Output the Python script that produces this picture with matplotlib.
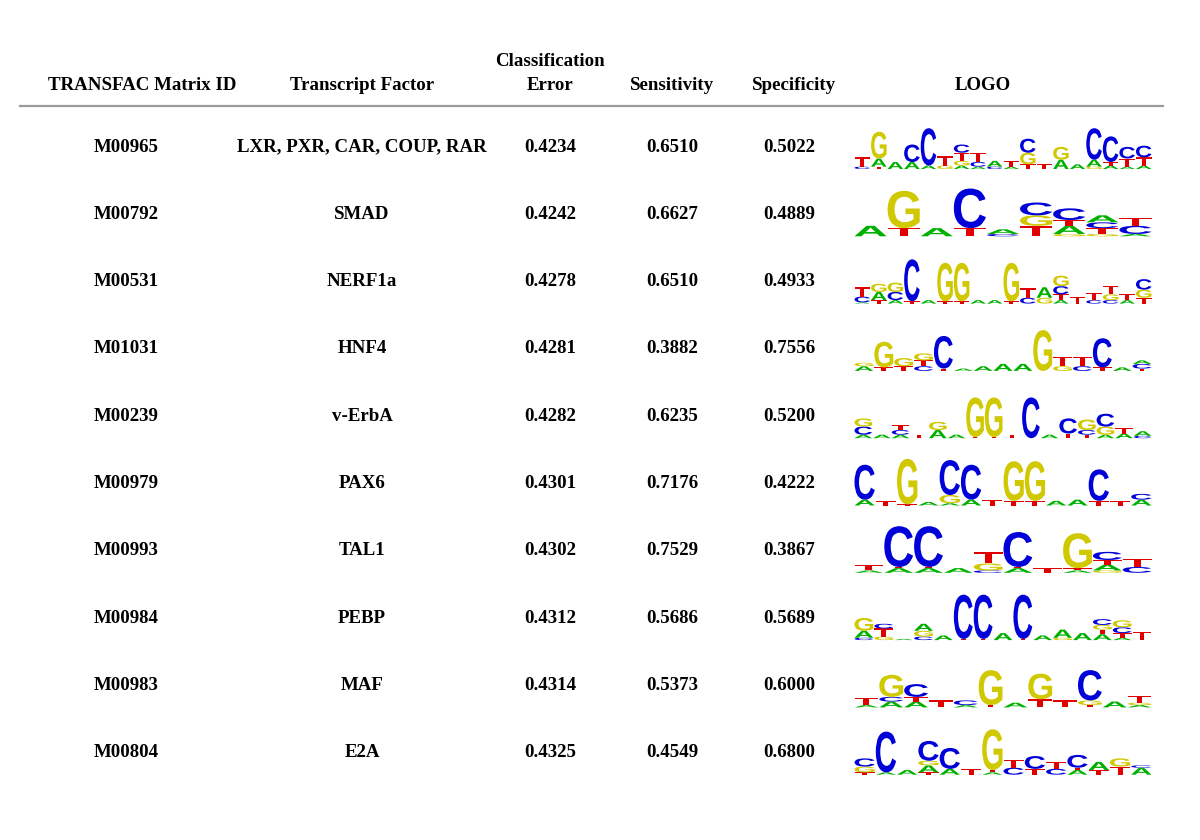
import matplotlib
matplotlib.use("Agg")
import matplotlib.pyplot as plt
from matplotlib.textpath import TextPath
from matplotlib.font_manager import FontProperties
from matplotlib.patches import PathPatch
from matplotlib.transforms import Affine2D

# table data
matrix_ids = ["M00965", "M00792", "M00531", "M01031", "M00239",
              "M00979", "M00993", "M00984", "M00983", "M00804"]
factors = ["LXR, PXR, CAR, COUP, RAR", "SMAD", "NERF1a", "HNF4", "v-ErbA",
           "PAX6", "TAL1", "PEBP", "MAF", "E2A"]
class_error = ["0.4234", "0.4242", "0.4278", "0.4281", "0.4282",
               "0.4301", "0.4302", "0.4312", "0.4314", "0.4325"]
sensitivity = ["0.6510", "0.6627", "0.6510", "0.3882", "0.6235",
               "0.7176", "0.7529", "0.5686", "0.5373", "0.4549"]
specificity = ["0.5022", "0.4889", "0.4933", "0.7556", "0.5200",
               "0.4222", "0.3867", "0.5689", "0.6000", "0.6800"]

# logo columns, stacks from bottom to top: (base, bits)
logo_M00965 = [[("C", .1), ("T", .4)], [("T", .1), ("A", .35), ("G", 1.15)], [("A", .3)],
               [("A", .3), ("C", .75)], [("A", .15), ("C", 1.6)], [("G", .15), ("T", .4)],
               [("A", .15), ("G", .2), ("T", .35), ("C", .35)], [("A", .1), ("C", .2), ("T", .4)],
               [("C", .1), ("A", .25)], [("A", .1), ("T", .25)], [("T", .2), ("G", .5), ("C", .6)],
               [("T", .2)], [("A", .4), ("G", .55)], [("A", .2)], [("G", .1), ("A", .3), ("C", 1.35)],
               [("A", .15), ("T", .15), ("C", 1.1)], [("A", .1), ("T", .35), ("C", .5)],
               [("A", .15), ("T", .35), ("C", .5)]]
logo_M00792 = [[("A", .45)], [("T", .35), ("G", 1.6)], [("A", .35)], [("T", .35), ("C", 1.7)],
               [("C", .1), ("A", .2)], [("T", .45), ("G", .45), ("C", .55)],
               [("G", .1), ("A", .35), ("T", .25), ("C", .5)], [("G", .1), ("T", .25), ("C", .25), ("A", .3)],
               [("A", .1), ("C", .35), ("T", .35)]]
logo_M00531 = [[("A", .05), ("C", .25), ("T", .4)], [("T", .15), ("A", .35), ("G", .35)],
               [("A", .15), ("C", .35), ("G", .4)], [("T", .1), ("C", 1.8)], [("A", .15)],
               [("T", .1), ("G", 1.65)], [("T", .1), ("G", 1.65)], [("A", .15)], [("A", .15)],
               [("T", .1), ("G", 1.65)], [("C", .25), ("T", .4)], [("G", .25), ("A", .45)],
               [("A", .15), ("T", .25), ("C", .35), ("G", .45)], [("T", .3)], [("C", .15), ("T", .3)],
               [("C", .15), ("G", .25), ("T", .35)], [("A", .15), ("T", .25)],
               [("T", .25), ("G", .35), ("C", .45)]]
logo_M01031 = [[("A", .2), ("G", .15)], [("T", .15), ("G", 1.1)], [("T", .2), ("G", .35)],
               [("C", .2), ("T", .25), ("G", .3)], [("T", .1), ("C", 1.4)], [("A", .1)], [("A", .2)],
               [("A", .3)], [("A", .3)], [("G", 1.75)], [("G", .2), ("T", .4)], [("C", .2), ("T", .4)],
               [("T", .15), ("C", 1.25)], [("A", .15)], [("T", .1), ("C", .2), ("A", .15)]]
logo_M00239 = [[("A", .15), ("C", .35), ("G", .35)], [("A", .15)], [("A", .15), ("C", .2), ("T", .2)],
               [("T", .15)], [("A", .35), ("G", .35)], [("A", .15)], [("T", .05), ("G", 1.7)],
               [("T", .05), ("G", 1.7)], [("T", .15)], [("C", 1.75)], [("A", .15)], [("T", .2), ("C", .65)],
               [("T", .15), ("C", .2), ("G", .45)], [("A", .15), ("G", .35), ("C", .55)],
               [("A", .2), ("T", .25)], [("C", .1), ("A", .2)]]
logo_M00979 = [[("A", .25), ("C", 1.5)], [("T", .2)], [("T", .05), ("G", 1.95)], [("A", .15)],
               [("A", .1), ("G", .35), ("C", 1.5)], [("A", .25), ("C", 1.5)], [("T", .25)],
               [("T", .2), ("G", 1.7)], [("T", .2), ("G", 1.7)], [("A", .2)], [("A", .25)],
               [("T", .2), ("C", 1.35)], [("T", .2)], [("A", .25), ("C", .25)]]
logo_M00993 = [[("A", .1), ("T", .25)], [("A", .2), ("T", .05), ("C", 1.75)],
               [("A", .2), ("T", .05), ("C", 1.75)], [("A", .2)], [("C", .1), ("G", .3), ("T", .5)],
               [("A", .2), ("T", .05), ("C", 1.5)], [("T", .2)], [("A", .1), ("T", .1), ("G", 1.5)],
               [("G", .1), ("A", .25), ("T", .2), ("C", .35)], [("C", .25), ("T", .35)]]
logo_M00984 = [[("C", .1), ("A", .3), ("G", .55)], [("G", .15), ("T", .35), ("C", .2)], [("A", .05)],
               [("C", .15), ("G", .25), ("A", .3)], [("A", .2)], [("T", .05), ("C", 1.9)],
               [("T", .05), ("C", 1.9)], [("A", .3)], [("T", .05), ("C", 1.9)], [("A", .2)],
               [("G", .1), ("A", .35)], [("A", .3)], [("A", .25), ("T", .2), ("G", .2), ("C", .25)],
               [("A", .1), ("T", .2), ("C", .25), ("G", .3)], [("T", .35)]]
logo_M00983 = [[("A", .1), ("T", .3)], [("A", .25), ("C", .2), ("G", .95)], [("A", .25), ("T", .2), ("C", .55)],
               [("T", .3)], [("A", .1), ("C", .2)], [("T", .1), ("G", 1.5)], [("A", .2)],
               [("T", .35), ("G", 1.1)], [("T", .3)], [("T", .1), ("G", .2), ("C", 1.3)], [("A", .25)],
               [("A", .1), ("G", .1), ("T", .3)]]
logo_M00804 = [[("T", .1), ("G", .25), ("C", .35)], [("A", .1), ("C", 1.75)], [("A", .2)],
               [("T", .1), ("A", .3), ("G", .2), ("C", .85)], [("A", .25), ("C", .9)], [("T", .25)],
               [("A", .1), ("T", .1), ("G", 1.75)], [("C", .3), ("T", .35)], [("T", .25), ("C", .55)],
               [("C", .25), ("T", .3)], [("A", .2), ("T", .1), ("C", .55)], [("T", .2), ("A", .35)],
               [("T", .35), ("G", .35)], [("A", .3), ("C", .1)]]
logos = [logo_M00965, logo_M00792, logo_M00531, logo_M01031, logo_M00239,
         logo_M00979, logo_M00993, logo_M00984, logo_M00983, logo_M00804]

base_colors = {"A": "#00b000", "C": "#0000d8", "G": "#d0c800", "T": "#e00000"}

fig = plt.figure(figsize=(12, 8.4), dpi=100)
ax = fig.add_axes([0, 0, 1, 1])
ax.set_xlim(0, 1200)
ax.set_ylim(840, 0)
ax.axis("off")

serif = {"family": "Liberation Serif", "weight": "bold", "size": 13.6}
letter_font = FontProperties(family="Liberation Sans", weight="bold")


def draw_letter(letter, x, y_bottom, w, h):
    tp = TextPath((0, 0), letter, size=1, prop=letter_font)
    bb = tp.get_extents()
    t = (Affine2D().translate(-bb.x0, -bb.y0)
         .scale(w / bb.width, -h / bb.height)
         .translate(x, y_bottom))
    ax.add_patch(PathPatch(t.transform_path(tp), fc=base_colors[letter], ec="none", lw=0))


# header
ax.text(142, 85, "TRANSFAC Matrix ID", ha="center", va="center", **serif)
ax.text(362, 85, "Transcript Factor", ha="center", va="center", **serif)
ax.text(550, 62, "Classification", ha="center", va="center", **serif)
ax.text(550, 85, "Error", ha="center", va="center", **serif)
ax.text(672, 85, "Sensitivity", ha="center", va="center", **serif)
ax.text(794, 85, "Specificity", ha="center", va="center", **serif)
ax.text(983, 85, "LOGO", ha="center", va="center", **serif)
ax.plot([20, 1163], [106, 106], color="#9a9a9a", lw=1.6)

logo_x0, logo_x1 = 854, 1152
px_per_bit = 23.3
for i in range(len(matrix_ids)):
    yc = 147 + i * 67.3
    ax.text(126, yc, matrix_ids[i], ha="center", va="center", **serif)
    ax.text(362, yc, factors[i], ha="center", va="center", **serif)
    ax.text(550, yc, class_error[i], ha="center", va="center", **serif)
    ax.text(672, yc, sensitivity[i], ha="center", va="center", **serif)
    ax.text(789, yc, specificity[i], ha="center", va="center", **serif)
    cols = logos[i]
    cw = (logo_x1 - logo_x0) / len(cols)
    base = yc + 22
    for j, stack in enumerate(cols):
        yb = base
        for letter, bits in stack:
            h = bits * px_per_bit
            draw_letter(letter, logo_x0 + j * cw + 0.5, yb, cw - 1, h)
            yb -= h

fig.savefig("out.png", dpi=100)
